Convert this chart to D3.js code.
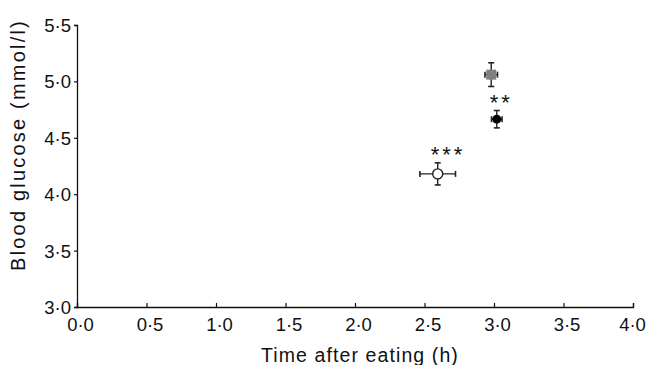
<!DOCTYPE html>
<html>
<head>
<meta charset="utf-8">
<script src="https://cdn.jsdelivr.net/npm/d3@7"></script>
<style>
  body { margin: 0; background: #fff; }
  text { font-family: "Liberation Sans", Arial, sans-serif; fill: #111; }
</style>
</head>
<body>
<div id="chart"></div>
<script>
// data
const groups = ["grey", "filled", "open"];
const timeMean = [2.98, 3.02, 2.595];
const timeErr = [0.045, 0.038, 0.128];
const glucoseMean = [5.06, 4.665, 4.18];
const glucoseErr = [0.105, 0.077, 0.098];
const stars = ["", "**", "***"];
const xTicks = [0, 0.5, 1, 1.5, 2, 2.5, 3, 3.5, 4];
const yTicks = [3, 3.5, 4, 4.5, 5, 5.5];

const width = 646, height = 365;
const margin = {top: 25, right: 13, bottom: 58, left: 77};

const svg = d3.select("#chart")
  .append("svg")
    .attr("width", width)
    .attr("height", height);

const x = d3.scaleLinear().domain([0, 4]).range([margin.left, width - margin.right]);
const y = d3.scaleLinear().domain([3, 5.5]).range([height - margin.bottom, margin.top]);

const fmt = d => d3.format(".1f")(d).replace(".", "\u00b7");

// x axis, ticks pointing up into the plot
const xAxis = svg.append("g")
  .attr("transform", `translate(0,${y(3)})`)
  .call(d3.axisBottom(x).tickValues(xTicks).tickSize(-4).tickPadding(9).tickFormat(fmt));

// y axis, small ticks outside
const yAxis = svg.append("g")
  .attr("transform", `translate(${x(0)},0)`)
  .call(d3.axisLeft(y).tickValues(yTicks).tickSize(3).tickPadding(3).tickFormat(fmt));

[xAxis, yAxis].forEach(g => {
  g.attr("font-size", null).attr("font-family", null);
  g.select(".domain").attr("stroke", "#111").attr("stroke-width", 1.3);
  g.selectAll(".tick line").attr("stroke", "#111").attr("stroke-width", 1.2);
  g.selectAll(".tick text")
    .attr("fill", "#111")
    .style("font-size", "18.5px");
});
// labels sit a little right of their ticks; keep the last one inside the page
xAxis.selectAll(".tick text").attr("dy", null).attr("y", 24)
  .attr("dx", (d, i) => i === xTicks.length - 1 ? -1 : 3);
yAxis.selectAll(".tick text").attr("dy", "0.35em");

svg.append("text")
  .attr("x", 360)
  .attr("y", 362)
  .attr("text-anchor", "middle")
  .style("font-size", "19.5px")
  .style("letter-spacing", "1.1px")
  .text("Time after eating (h)");

svg.append("text")
  .attr("transform", `translate(25,145) rotate(-90)`)
  .attr("text-anchor", "middle")
  .style("font-size", "20px")
  .style("letter-spacing", "2.2px")
  .text("Blood glucose (mmol/l)");

const data = groups.map((g, i) => ({
  group: g, t: timeMean[i], te: timeErr[i], v: glucoseMean[i], ve: glucoseErr[i], star: stars[i]
}));

const pts = svg.selectAll("g.pt")
  .data(data)
  .join("g")
    .attr("class", "pt");

// error bars
pts.append("line")
  .attr("x1", d => x(d.t - d.te)).attr("x2", d => x(d.t + d.te))
  .attr("y1", d => y(d.v)).attr("y2", d => y(d.v))
  .attr("stroke", "#222").attr("stroke-width", 1.4);
pts.append("line")
  .attr("x1", d => x(d.t)).attr("x2", d => x(d.t))
  .attr("y1", d => y(d.v - d.ve)).attr("y2", d => y(d.v + d.ve))
  .attr("stroke", "#222").attr("stroke-width", 1.4);

// caps, markers and significance stars
const cap = 3;
pts.each(function(d) {
  const g = d3.select(this);
  [d.t - d.te, d.t + d.te].forEach(tv => {
    g.append("line")
      .attr("x1", x(tv)).attr("x2", x(tv))
      .attr("y1", y(d.v) - cap).attr("y2", y(d.v) + cap)
      .attr("stroke", "#222").attr("stroke-width", 1.6);
  });
  [d.v - d.ve, d.v + d.ve].forEach(vv => {
    g.append("line")
      .attr("x1", x(d.t) - cap).attr("x2", x(d.t) + cap)
      .attr("y1", y(vv)).attr("y2", y(vv))
      .attr("stroke", "#222").attr("stroke-width", 1.6);
  });

  if (d.group === "grey") {
    g.append("rect")
      .attr("x", x(d.t) - 5).attr("y", y(d.v) - 5)
      .attr("width", 10).attr("height", 10)
      .attr("fill", "#7f7f7f");
  } else if (d.group === "filled") {
    g.append("circle")
      .attr("cx", x(d.t)).attr("cy", y(d.v)).attr("r", 4.5)
      .attr("fill", "#000");
  } else {
    g.append("circle")
      .attr("cx", x(d.t)).attr("cy", y(d.v)).attr("r", 5)
      .attr("fill", "#fff").attr("stroke", "#222").attr("stroke-width", 1.4);
  }

  if (d.star) {
    g.append("text")
      .attr("x", x(d.t) - 7)
      .attr("y", y(d.v + d.ve) - 1)
      .style("font-size", "22px")
      .style("letter-spacing", "3px")
      .attr("fill", "#333")
      .text(d.star);
  }
});
</script>
</body>
</html>
